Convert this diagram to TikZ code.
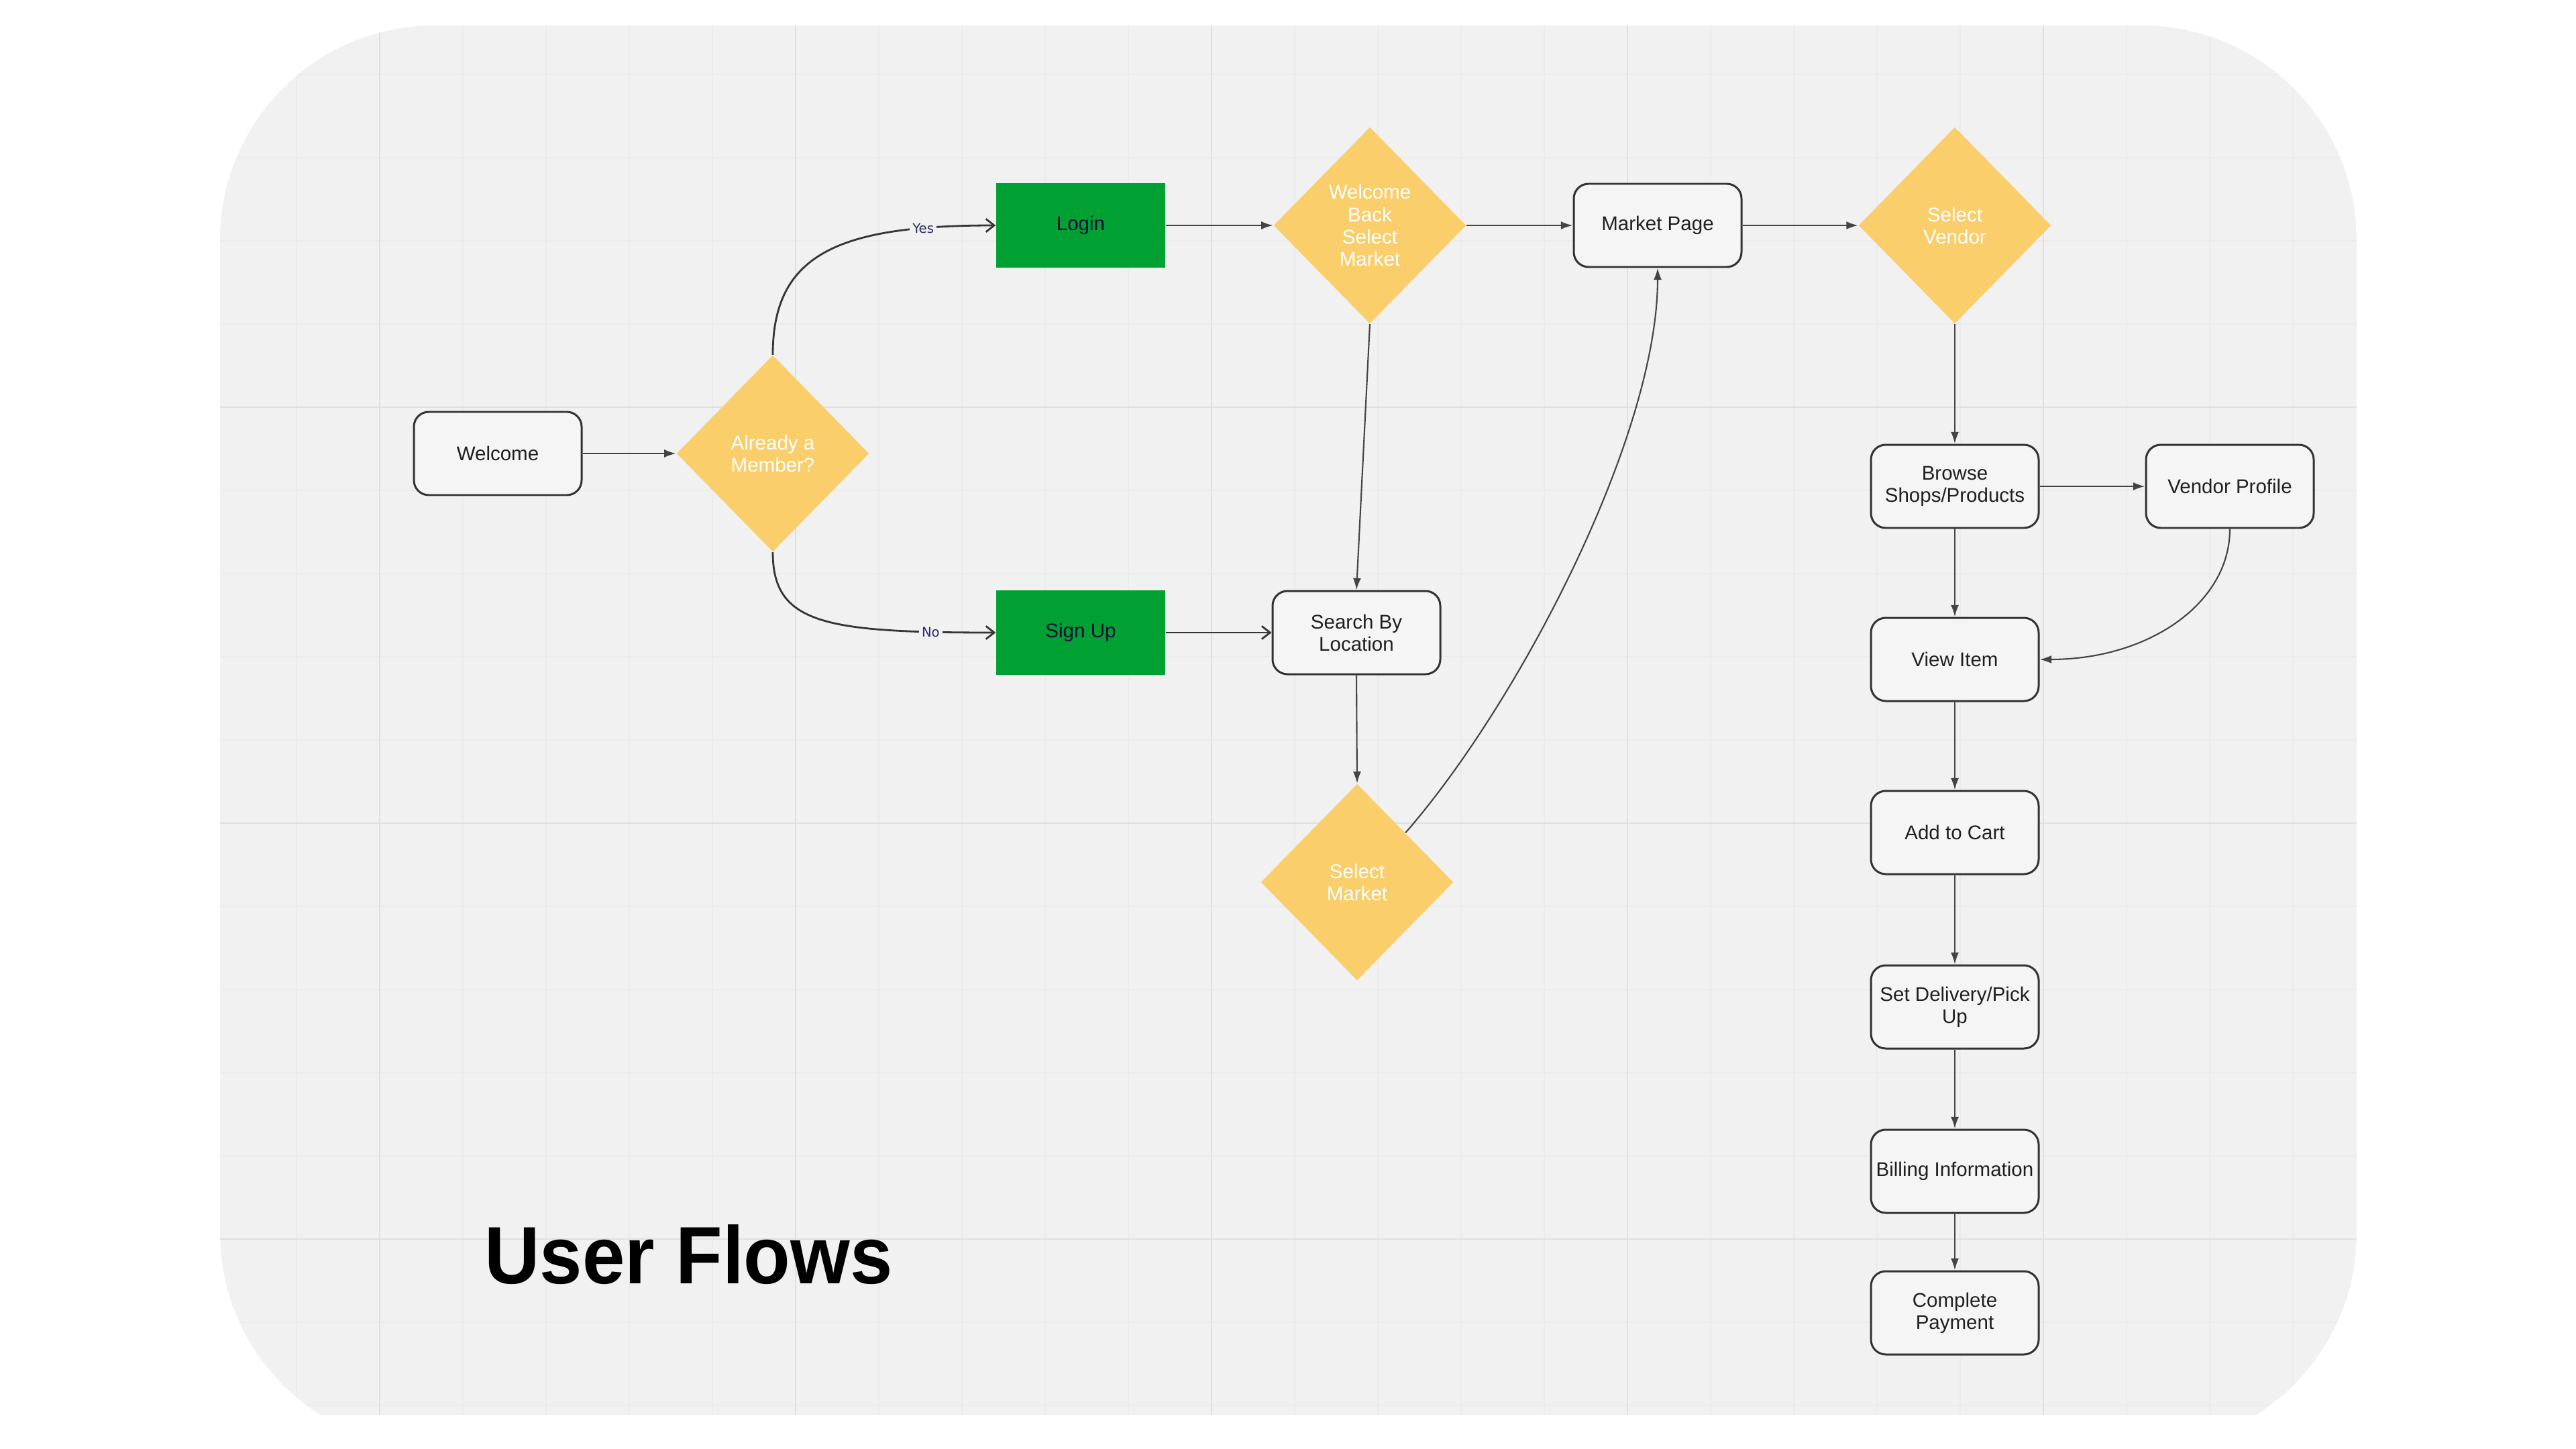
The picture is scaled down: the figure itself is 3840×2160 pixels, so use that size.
\documentclass[tikz,border=0pt]{standalone}
\usepackage{fontspec}
\setmainfont{Liberation Sans}
\newfontfamily\labelfont{DejaVu Sans}
\usetikzlibrary{shapes.geometric,arrows.meta}
\definecolor{bgc}{HTML}{F1F1F1}
\definecolor{gridminor}{HTML}{EBEBEB}
\definecolor{gridmajor}{HTML}{E0E0E0}
\definecolor{boxfill}{HTML}{F5F5F5}
\definecolor{boxline}{HTML}{333333}
\definecolor{dyellow}{HTML}{F9CE6B}
\definecolor{dgreen}{HTML}{00A032}
\definecolor{navy}{HTML}{0D0D3A}
\definecolor{lblnavy}{HTML}{2B2B66}
\definecolor{conn}{HTML}{444444}
\begin{document}
\begin{tikzpicture}[x=0.1mm,y=-0.1mm,
  nodefont/.style={font=\fontsize{8.4}{9.4}\selectfont},
  box/.style={draw=boxline,line width=0.85pt,fill=boxfill,rounded corners=2.2mm,
    minimum width=25mm,minimum height=12.4mm,inner sep=0pt,align=center,nodefont,text=black!88},
  greenbox/.style={fill=dgreen,minimum width=25.2mm,minimum height=12.6mm,inner sep=0pt,
    align=center,nodefont,text=navy},
  decision/.style={diamond,fill=dyellow,minimum width=28.7mm,minimum height=29.3mm,
    inner sep=0pt,align=center,nodefont,text=white},
  arr/.style={draw=conn,line width=0.6pt,-{Latex[length=5pt,width=3.4pt]}},
  openarr/.style={draw=conn!80!black,line width=0.8pt,-{Straight Barb[length=3.5pt,width=5.5pt]}},
  edgelabel/.style={fill=bgc,inner sep=1.2pt,text=lblnavy,font=\labelfont\fontsize{5.6}{6}\selectfont}
]
\useasboundingbox (0,0) rectangle (3840,2160);
\fill[white] (0,0) rectangle (3840,2160);
% background panel with grid
\begin{scope}
  \clip (0,0) rectangle (3840,2108);
  \clip[rounded corners=32mm] (328,38) rectangle (3513,2158);
  \fill[bgc] (328,38) rectangle (3513,2158);
  \foreach \k in {-2,...,24}{
    \pgfmathtruncatemacro{\xx}{566+124*\k}
    \draw[gridminor,line width=0.45pt] (\xx,0) -- (\xx,2160);
  }
  \foreach \k in {-1,...,17}{
    \pgfmathtruncatemacro{\yy}{111+124*\k}
    \draw[gridminor,line width=0.45pt] (0,\yy) -- (3840,\yy);
  }
  \foreach \k in {0,5,10,15,20}{
    \pgfmathtruncatemacro{\xx}{566+124*\k}
    \draw[gridmajor,line width=0.8pt] (\xx,0) -- (\xx,2160);
  }
  \foreach \k in {4,9,14}{
    \pgfmathtruncatemacro{\yy}{111+124*\k}
    \draw[gridmajor,line width=0.8pt] (0,\yy) -- (3840,\yy);
  }
\end{scope}

% nodes
\node[box] (welcome) at (742,676) {Welcome};
\node[decision] (member) at (1152,676) {Already a\\Member?};
\node[greenbox] (login) at (1611,336) {Login};
\node[greenbox] (signup) at (1611,943) {Sign Up};
\node[decision] (wb) at (2042,336) {Welcome\\Back\\Select\\Market};
\node[box] (market) at (2471,336) {Market Page};
\node[decision] (vendor) at (2914,336) {Select\\Vendor};
\node[box] (search) at (2022,943) {Search By\\Location};
\node[decision] (selmarket) at (2023,1315) {Select\\Market};
\node[box] (browse) at (2914,725) {Browse\\Shops/Products};
\node[box] (vprof) at (3324,725) {Vendor Profile};
\node[box] (view) at (2914,983) {View Item};
\node[box] (cart) at (2914,1241) {Add to Cart};
\node[box] (delivery) at (2914,1501) {Set Delivery/Pick\\Up};
\node[box] (billing) at (2914,1746) {Billing Information};
\node[box] (complete) at (2914,1957) {Complete\\Payment};

\node[anchor=base west,inner sep=0pt,xscale=0.94,font=\bfseries\fontsize{34.5}{40}\selectfont] (title) at (722,1913) {User Flows};

% connectors
\draw[arr] (welcome.east) -- (member.west);
\draw[openarr] (member.north) .. controls +(0,-150) and +(-235,0) .. node[pos=0.83,edgelabel] {Yes} (login.west);
\draw[openarr] (member.south) .. controls +(0,107) and +(-255,0) .. node[pos=0.86,edgelabel] {No} (signup.west);
\draw[arr] (login.east) -- (wb.west);
\draw[arr] (wb.east) -- (market.west);
\draw[arr] (market.east) -- (vendor.west);
\draw[openarr] (signup.east) -- (search.west);
\draw[arr] (wb.south) -- (search.north);
\draw[arr] (search.south) -- (selmarket.north);
\draw[arr] (selmarket.north east) .. controls +(167,-191) and +(0,252) .. (market.south);
\draw[arr] (vendor.south) -- (browse.north);
\draw[arr] (browse.east) -- (vprof.west);
\draw[arr] (browse.south) -- (view.north);
\draw[arr] (vprof.south) .. controls +(0,112) and +(161,0) .. (view.east);
\draw[arr] (view.south) -- (cart.north);
\draw[arr] (cart.south) -- (delivery.north);
\draw[arr] (delivery.south) -- (billing.north);
\draw[arr] (billing.south) -- (complete.north);
\end{tikzpicture}
\end{document}
